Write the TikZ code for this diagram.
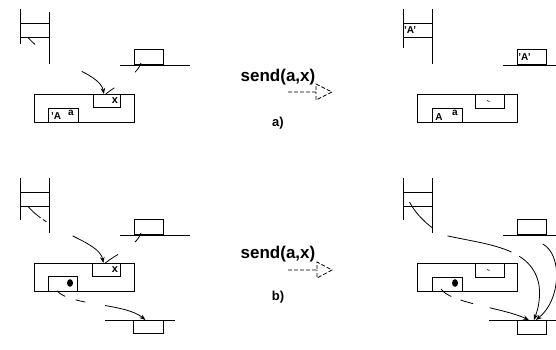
\documentclass[tikz,border=0pt]{standalone}
\usepackage{fontspec}
\setmainfont{Liberation Sans}
\usetikzlibrary{arrows.meta,calc}
\begin{document}
\begin{tikzpicture}[x=1pt,y=-1pt,line width=0.8pt,
  box/.style={draw,line width=0.8pt,inner sep=0pt,minimum width=#1},
  cellbox/.style={draw,line width=0.8pt,inner sep=0pt,minimum width=29pt,minimum height=14pt},
  lbl/.style={inner sep=0pt,font=\bfseries\fontsize{10}{10}\selectfont},
  xlbl/.style={inner sep=0pt,font=\bfseries\fontsize{11}{11}\selectfont},
  sendlbl/.style={inner sep=0pt,font=\bfseries\fontsize{17}{17}\selectfont},
  caplbl/.style={inner sep=0pt,font=\bfseries\fontsize{13}{13}\selectfont},
  arr/.style={-{Stealth[length=6pt,width=4.5pt]}},
  sendarr/.style={dash pattern=on 4pt off 2pt,line width=0.8pt}]
\useasboundingbox (0,0) rectangle (556,349);
\fill[white] (0,0) rectangle (556,349);

% ================= a) left =================
\draw (20,9) -- (20,44);
\draw (49,12) -- (49,64);
\node[cellbox] (cellA1) at (34.5,30) {};
\node[box=29pt,minimum height=15pt,anchor=south west] (heapA1) at (134,65) {};
\draw (120,65) -- (190,65);
\node[box=100pt,minimum height=28pt,anchor=north west] (mainA1) at (34,94) {};
\node[box=27pt,minimum height=13pt,anchor=north east] (xA1) at ([xshift=-14pt]mainA1.north east) {};
\node[box=30pt,minimum height=14pt,anchor=south west] (abA1) at ([xshift=14pt]mainA1.south west) {};
\node[xlbl] (xtA1) at (115,101) {x};
\node[lbl] (qaA1) at (56,116) {'A};
\node[lbl] (aaA1) at (71,113) {a};
\draw[arr,dash pattern=on 10pt off 54pt on 80pt] ([xshift=-6.5pt]cellA1.south) .. controls +(22,26) and +(-4,-22) .. ([xshift=-3pt]xA1.north);
\draw[dash pattern=on 11pt off 26pt on 20pt] ([xshift=7pt,yshift=2pt]heapA1.south west) .. controls +(-5,14) and +(9,-8) .. ([xshift=-1pt]xA1.north);

% ================= a) middle =================
\node[sendlbl] (sendA) at (278,77) {send(a,x)};
\coordinate (saT) at (288,92);
\coordinate (saB) at (316,92);
\coordinate (saP) at (332,92);
\draw[sendarr] (saT) -- (saB) -- ++(0,-8) -- (saP) -- ($(saB)+(0,8)$) -- (saB);
\node[caplbl] (capA) at (278,123) {a)};

% ================= a) right =================
\draw (403,9) -- (403,48);
\draw (432,9) -- (432,64);
\node[cellbox] (cellC1) at (417.5,30) {};
\node[lbl,anchor=west] (qC1) at ([xshift=1pt]cellC1.west) {'A'};
\node[box=29pt,minimum height=15pt,anchor=south west] (heapC1) at (517,65) {};
\node[lbl,anchor=west] (qC2) at ([xshift=1pt]heapC1.west) {'A'};
\draw (503,65) -- (556,65);
\node[box=100pt,minimum height=28pt,anchor=north west] (mainC1) at (417,94) {};
\node[box=29pt,minimum height=14pt,anchor=north east] (xC1) at ([xshift=-13pt]mainC1.north east) {};
\node[box=30pt,minimum height=14pt,anchor=south west] (abC1) at ([xshift=15pt]mainC1.south west) {};
\draw[line width=0.6pt] (487,100.5) -- (489.5,101.5);
\node[lbl] (qaC1) at (439,117) {A};
\node[lbl] (aaC1) at (455,113) {a};

% ================= b) left =================
\draw (20,178) -- (20,220);
\draw (49,178) -- (49,233);
\node[cellbox] (cellB1) at (34.5,199) {};
\node[box=29pt,minimum height=15pt,anchor=south west] (heapB1) at (134,235) {};
\draw (120,235) -- (190,235);
\node[box=100pt,minimum height=28pt,anchor=north west] (mainB1) at (34,263) {};
\node[box=28pt,minimum height=13pt,anchor=north east] (xB1) at ([xshift=-14pt]mainB1.north east) {};
\node[box=29pt,minimum height=15pt,anchor=south west] (abB1) at ([xshift=14pt]mainB1.south west) {};
\node[xlbl] (xtB1) at (115,270) {x};
\fill (70,283) ellipse [x radius=3pt,y radius=3.8pt];
\node[box=30pt,minimum height=13pt,anchor=north west] (botB1) at (133,320) {};
\draw (105,320) -- (175,320);
\draw[arr,dash pattern=on 17pt off 3pt on 4pt off 30pt on 80pt] ([xshift=-6.5pt]cellB1.south) .. controls +(22,26) and +(-4,-22) .. ([xshift=-3pt]xB1.north);
\draw[dash pattern=on 11pt off 21pt on 20pt] ([xshift=7pt,yshift=2pt]heapB1.south west) .. controls +(-5,14) and +(9,-8) .. ([xshift=-1pt]xB1.north);
\draw[arr,dash pattern=on 10pt off 11pt on 10pt off 20pt on 80pt] ([xshift=9pt,yshift=1pt]abB1.south west) .. controls +(13,15) and +(-20,-17) .. ([xshift=-3pt]botB1.north);

% ================= b) middle =================
\node[sendlbl] (sendB) at (278,254) {send(a,x)};
\coordinate (sbT) at (288,270);
\coordinate (sbB) at (317,270);
\coordinate (sbP) at (332,270);
\draw[sendarr] (sbT) -- (sbB) -- ++(0,-8) -- (sbP) -- ($(sbB)+(0,8)$) -- (sbB);
\node[caplbl] (capB) at (278,297) {b)};

% ================= b) right =================
\draw (403,178) -- (403,220);
\draw (432,178) -- (432,233);
\node[cellbox] (cellD1) at (417.5,199) {};
\node[box=29pt,minimum height=15pt,anchor=south west] (heapD1) at (517,235) {};
\draw (503,235) -- (556,235);
\node[box=100pt,minimum height=28pt,anchor=north west] (mainD1) at (417,263) {};
\node[box=29pt,minimum height=14pt,anchor=north east] (xD1) at ([xshift=-13pt]mainD1.north east) {};
\node[box=30pt,minimum height=14pt,anchor=south west] (abD1) at ([xshift=15pt]mainD1.south west) {};
\draw[line width=0.6pt] (487,269.5) -- (489.5,270.5);
\fill (455,283) ellipse [x radius=3pt,y radius=3.8pt];
\node[box=29pt,minimum height=14pt,anchor=north west] (botD1) at (517,320) {};
\draw (489,320) -- (556,320);
\draw[arr,dash pattern=on 35pt off 17pt on 66pt off 9pt on 200pt] ([xshift=-8pt,yshift=-3pt]cellD1.center) .. controls +(8,15) and +(-15,-5) .. (448,236) .. controls (490,245) and (532,248) .. (539,285) .. controls (541,300) and (537,312) .. ([xshift=2pt]botD1.north);
\draw[arr] ([xshift=-4pt,yshift=-9pt]heapD1.south east) .. controls +(20,11) and +(25,-20) .. ([xshift=4pt]botD1.north);
\draw[arr,dash pattern=on 13pt off 10pt on 13pt off 17pt on 80pt] ([xshift=9pt,yshift=3pt]abD1.south west) .. controls +(8,14) and +(-25,-12) .. ([xshift=-3pt]botD1.north);
\end{tikzpicture}
\end{document}
